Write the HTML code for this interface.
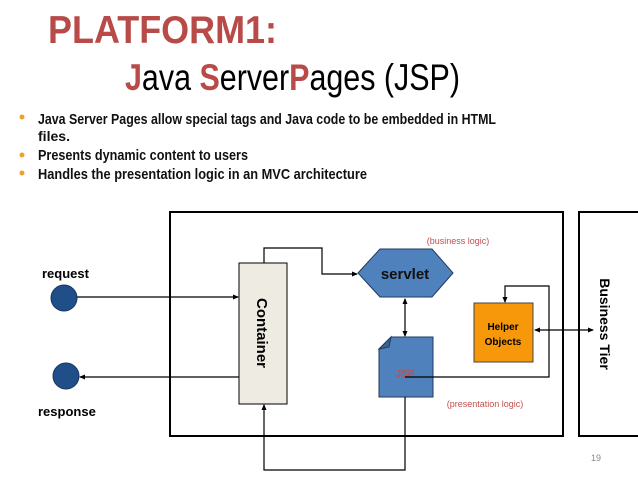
<!DOCTYPE html>
<html><head><meta charset="utf-8"><style>
body{margin:0;width:638px;height:479px;background:#fff;overflow:hidden}
</style></head><body>
<svg width="638" height="479" viewBox="0 0 638 479" xmlns="http://www.w3.org/2000/svg">
<defs><marker id="a" markerWidth="6" markerHeight="6" refX="5" refY="3" orient="auto" markerUnits="userSpaceOnUse"><path d="M0,0.5 L6,3 L0,5.5z" fill="#000"/></marker>
<marker id="s" markerWidth="6" markerHeight="6" refX="1" refY="3" orient="auto" markerUnits="userSpaceOnUse"><path d="M6,0.5 L0,3 L6,5.5z" fill="#000"/></marker></defs>
<g font-family="Liberation Sans, sans-serif" font-size="39" font-weight="bold">
<text x="48" y="43" fill="#b84a48" textLength="229" lengthAdjust="spacingAndGlyphs">PLATFORM1:</text>
<text x="125" y="90" fill="#000" font-weight="normal" font-size="37" textLength="335" lengthAdjust="spacingAndGlyphs"><tspan fill="#b84a48" font-weight="bold">J</tspan>ava <tspan fill="#b84a48" font-weight="bold">S</tspan>erver<tspan fill="#b84a48" font-weight="bold">P</tspan>ages (JSP)</text>
</g>
<g font-family="Liberation Sans, sans-serif" font-size="15" font-weight="bold" fill="#111">
<circle cx="22" cy="117" r="2.5" fill="#f0a030"/>
<circle cx="22" cy="155" r="2.5" fill="#f0a030"/>
<circle cx="22" cy="173" r="2.5" fill="#f0a030"/>
<text x="38" y="124" textLength="458" lengthAdjust="spacingAndGlyphs">Java Server Pages allow special tags and Java code to be embedded in HTML</text>
<text x="38" y="141" font-size="14" textLength="32" lengthAdjust="spacingAndGlyphs">files.</text>
<text x="38" y="160" textLength="210" lengthAdjust="spacingAndGlyphs">Presents dynamic content to users</text>
<text x="38" y="179" textLength="329" lengthAdjust="spacingAndGlyphs">Handles the presentation logic in an MVC architecture</text>
</g>
<rect x="170" y="212" width="393" height="224" fill="none" stroke="#000" stroke-width="2"/>
<rect x="579" y="212" width="60" height="224" fill="none" stroke="#000" stroke-width="2"/>
<text transform="translate(600,324) rotate(90)" text-anchor="middle" font-family="Liberation Sans, sans-serif" font-size="14" font-weight="bold">Business Tier</text>
<rect x="239" y="263" width="48" height="141" fill="#eeebe2" stroke="#000"/>
<text transform="translate(257,333) rotate(90)" text-anchor="middle" font-family="Liberation Sans, sans-serif" font-size="15" font-weight="bold">Container</text>
<polygon points="358,273 380,249 432,249 453,273 432,297 380,297" fill="#4f81bd" stroke="#1f3a60"/>
<text x="405" y="279" text-anchor="middle" font-family="Liberation Sans, sans-serif" font-size="15" font-weight="bold" fill="#111">servlet</text>
<text x="458" y="244" text-anchor="middle" font-family="Liberation Sans, sans-serif" font-size="9" fill="#c0504d">(business logic)</text>
<polygon points="391,337 433,337 433,397 379,397 379,349" fill="#4f81bd" stroke="#1f3a60"/>
<polygon points="379,349 391,337 389,347" fill="#3a6394" stroke="#1f3a60"/>
<text x="405" y="377" text-anchor="middle" font-family="Liberation Sans, sans-serif" font-size="10" font-weight="bold" fill="#c0504d">JSP</text>
<text x="485" y="407" text-anchor="middle" font-family="Liberation Sans, sans-serif" font-size="9" fill="#c0504d">(presentation logic)</text>
<rect x="474" y="303" width="59" height="59" fill="#f7980a" stroke="#444"/>
<text x="503" y="330" text-anchor="middle" font-family="Liberation Sans, sans-serif" font-size="10" font-weight="bold">Helper</text>
<text x="503" y="345" text-anchor="middle" font-family="Liberation Sans, sans-serif" font-size="10" font-weight="bold">Objects</text>
<g fill="none" stroke="#000" stroke-width="1.2">
<polyline points="264,263 264,248 322,248 322,274 357,274" marker-end="url(#a)"/>
<line x1="77" y1="297" x2="238" y2="297" marker-end="url(#a)"/>
<line x1="239" y1="377" x2="80" y2="377" marker-end="url(#a)"/>
<line x1="405" y1="299" x2="405" y2="336" marker-start="url(#s)" marker-end="url(#a)"/>
<polyline points="405,377 549,377 549,286 505,286 505,302" marker-end="url(#a)"/>
<line x1="535" y1="330" x2="593" y2="330" marker-start="url(#s)" marker-end="url(#a)"/>
<polyline points="405,397 405,470 264,470 264,405" marker-end="url(#a)"/>
</g>
<circle cx="64" cy="298" r="13" fill="#1f4e89" stroke="#17365d"/>
<circle cx="66" cy="376" r="13" fill="#1f4e89" stroke="#17365d"/>
<g font-family="Liberation Sans, sans-serif" font-size="13" font-weight="bold">
<text x="42" y="278">request</text>
<text x="38" y="416">response</text>
</g>
<text x="596" y="461" text-anchor="middle" font-family="Liberation Sans, sans-serif" font-size="9" fill="#888">19</text>
</svg>
</body></html>
